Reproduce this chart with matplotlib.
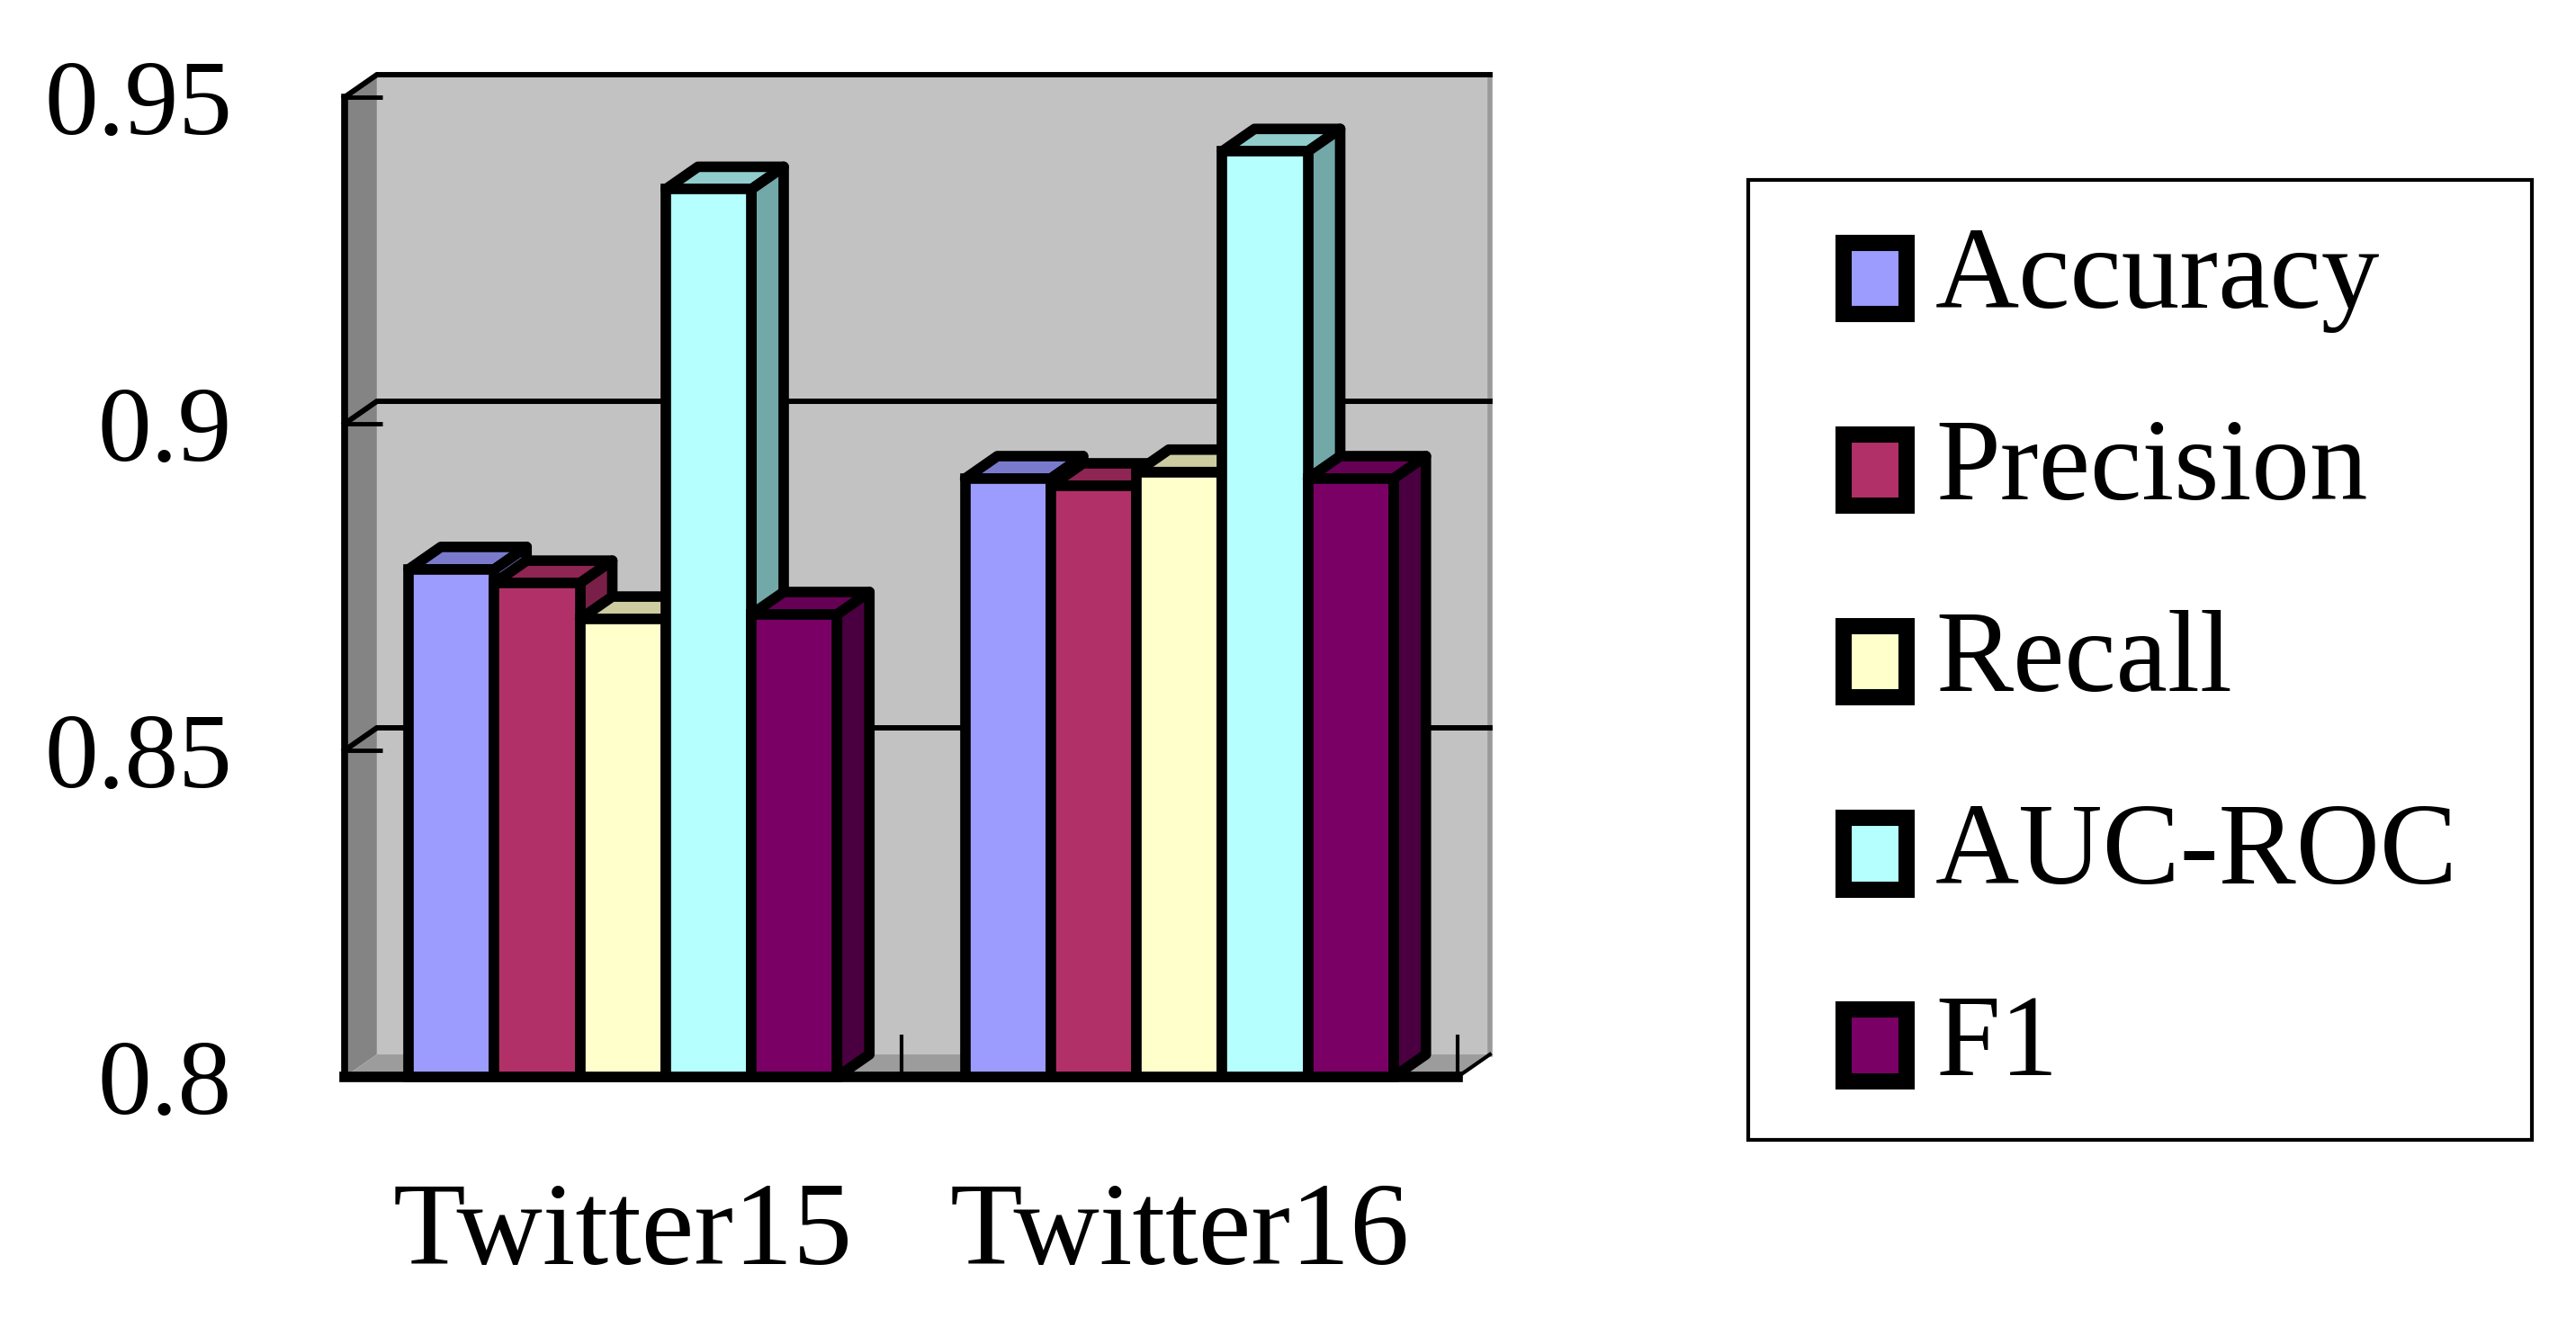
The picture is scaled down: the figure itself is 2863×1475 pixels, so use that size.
import matplotlib
matplotlib.use('Agg')
import matplotlib.pyplot as plt
from matplotlib.legend_handler import HandlerPatch
from matplotlib.patches import Patch, Polygon, Rectangle

W, H = 2863, 1475

# values
categories = ['Twitter15', 'Twitter16']
metrics = ['Accuracy', 'Precision', 'Recall', 'AUC-ROC', 'F1']
accuracy = [0.8777, 0.8916]
precision = [0.8756, 0.8905]
recall = [0.8701, 0.8926]
auc_roc = [0.9359, 0.9417]
f1 = [0.8708, 0.8916]
y_ticks = [0.8, 0.85, 0.9, 0.95]
y_labels = ['0.8', '0.85', '0.9', '0.95']

front = ['#9C9CFF', '#B23068', '#FFFFCC', '#B6FFFF', '#7A0066']
top = ['#7A7ACC', '#8E2552', '#CCCCA0', '#90CCCC', '#660055']
side = ['#6A6AAA', '#7A2048', '#AAAA88', '#72A8A8', '#4A0040']

BAR_W = 0.154
DX = 0.058     # depth of the fake 3d box, in data units
DY = 0.00344
LW = 8.4

plt.rcParams['font.family'] = ['Liberation Serif', 'DejaVu Serif']

fig = plt.figure(figsize=(W / 100, H / 100), dpi=100, facecolor='white')
ax = fig.add_axes([383 / W, 1 - 1197 / H, (1620 - 383) / W, (1197 - 108) / H])
ax.set_xlim(-0.5, 1.5)
ax.set_ylim(0.8, 0.95)
ax.patch.set_visible(False)
for name in ['top', 'right']:
    ax.spines[name].set_visible(False)
ax.spines['left'].set_linewidth(5.5)
ax.spines['bottom'].set_linewidth(LW)
ax.spines['bottom'].set_zorder(2)


def wall(points, color, z=0):
    ax.add_patch(Polygon(points, closed=True, facecolor=color, edgecolor='none',
                         zorder=z, clip_on=False))


def shifted_box(legend, orig_handle, xdescent, ydescent, width, height, fontsize):
    # legend box sits a bit lower against the text than matplotlib puts it
    return Rectangle((-xdescent, -ydescent - 0.1 * fontsize), width, height)


x0, x1 = ax.get_xlim()
y0, y1 = ax.get_ylim()
wall([(x0 + DX, y0 + DY), (x1 + DX, y0 + DY), (x1 + DX, y1 + DY), (x0 + DX, y1 + DY)], '#C2C2C2')
wall([(x0, y0), (x0 + DX, y0 + DY), (x0 + DX, y1 + DY), (x0, y1)], '#848484')
wall([(x0, y0), (x1, y0), (x1 + DX, y0 + DY), (x0 + DX, y0 + DY)], '#9C9C9C')
ax.plot([x1 + DX, x1 + DX], [y0 + DY, y1 + DY], color='#9A9A9A', lw=4, zorder=0.5, clip_on=False)
ax.plot([x1, x1 + DX], [y0, y0 + DY], color='black', lw=3, zorder=0.6, clip_on=False)

# gridlines on the back wall with the diagonal down to the front edge
for t in y_ticks[1:]:
    ax.plot([x0, x0 + DX, x1 + DX], [t, t + DY, t + DY], color='black', lw=4.3,
            zorder=1, clip_on=False, solid_joinstyle='miter')

# bars, left to right so the later ones cover the sides of the earlier ones
series = [accuracy, precision, recall, auc_roc, f1]
z = 3
for g in range(len(categories)):
    for i, vals in enumerate(series):
        left = g + (i - 2.5) * BAR_W
        right = left + BAR_W
        v = vals[g]
        for pts, c in [([(left, v), (right, v), (right + DX, v + DY), (left + DX, v + DY)], top[i]),
                       ([(right, 0.8), (right + DX, 0.8 + DY), (right + DX, v + DY), (right, v)], side[i])]:
            ax.add_patch(Polygon(pts, closed=True, facecolor=c, edgecolor='black', lw=LW,
                                 joinstyle='round', zorder=z, clip_on=False))
        ax.bar(g + (i - 2) * BAR_W, v - 0.8, BAR_W, bottom=0.8, color=front[i], edgecolor='black',
               linewidth=LW, zorder=z + 0.5, clip_on=False)
        z += 1

ax.set_yticks(y_ticks, y_labels)
ax.set_xticks(range(len(categories)), categories)
ax.set_xticks([-0.5, 0.5, 1.5], minor=True)
ax.tick_params(axis='y', direction='in', length=30, width=3.5, labelsize=86, pad=90)
ax.tick_params(axis='x', which='major', length=0, labelsize=95, pad=84)
ax.tick_params(axis='x', which='minor', direction='in', length=34, width=3)

# frame drawn on its own, the legend box padding is not the same on all sides
fig.add_artist(Rectangle((1943 / W, 1 - 1267 / H), (2814 - 1943) / W, (1267 - 200) / H,
                         transform=fig.transFigure, facecolor='white', edgecolor='black', lw=3))

handles = [Patch(facecolor=c, edgecolor='black', linewidth=13, joinstyle='round') for c in front]
leg = fig.legend(handles, metrics, loc='upper left', bbox_to_anchor=(2049 / W, 1 - 252 / H),
                 frameon=False, borderaxespad=0, borderpad=0, fontsize=93,
                 handlelength=0.54, handleheight=0.57, handletextpad=0.25, labelspacing=0.737,
                 handler_map={Patch: HandlerPatch(patch_func=shifted_box)})

fig.savefig('out.png', dpi=100)
